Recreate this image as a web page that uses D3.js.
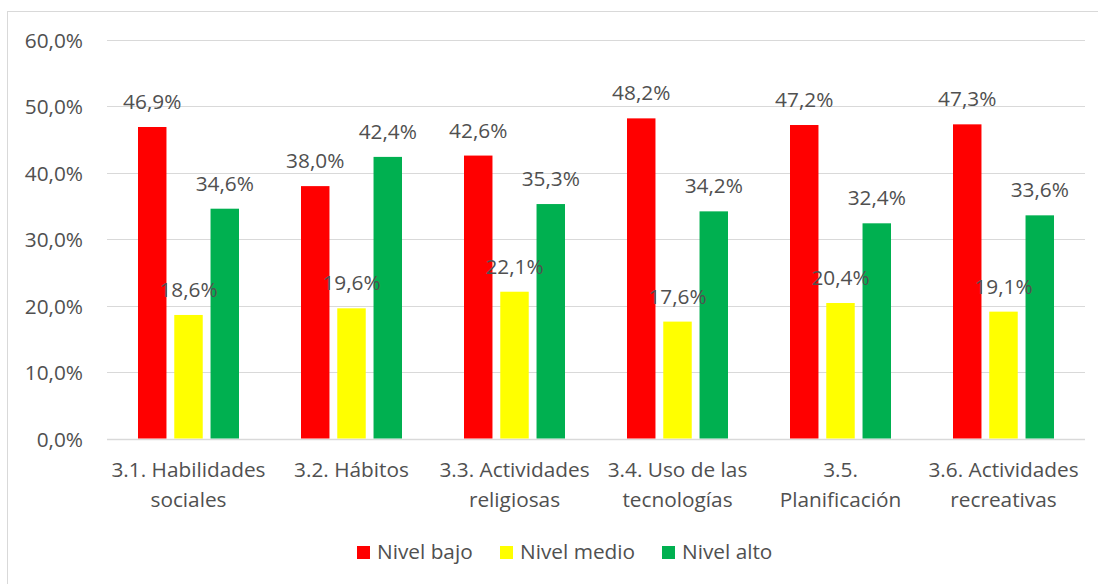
<html>
    <head>
        <meta charset="UTF-8">
        <title>Niveles por dimensión</title>
        <script src="https://cdn.jsdelivr.net/npm/d3@7/dist/d3.min.js"></script>
        <style>
            body { margin: 0; background: #ffffff; }
            text { font-family: "Open Sans", "Noto Sans", sans-serif; fill: #505050; }
        </style>
    </head>
    <body>
        <div id="chart"></div>

        <script>
            // datos
            var categorias = [
                ["3.1. Habilidades", "sociales"],
                ["3.2. Hábitos"],
                ["3.3. Actividades", "religiosas"],
                ["3.4. Uso de las", "tecnologías"],
                ["3.5.", "Planificación"],
                ["3.6. Actividades", "recreativas"]
            ];
            var series = ["Nivel bajo", "Nivel medio", "Nivel alto"];
            var nivelBajo = [46.9, 38.0, 42.6, 48.2, 47.2, 47.3];
            var nivelMedio = [18.6, 19.6, 22.1, 17.6, 20.4, 19.1];
            var nivelAlto = [34.6, 42.4, 35.3, 34.2, 32.4, 33.6];
            var ticks = [0, 10, 20, 30, 40, 50, 60];
            var colores = ["#FF0000", "#FFFF00", "#00B050"];

            var valores = [nivelBajo, nivelMedio, nivelAlto];
            var W = 1098, H = 584, FS = 20.8;
            var fmt = function (v) { return v.toFixed(1).replace(".", ",") + "%"; };

            var svg = d3.select("#chart").append("svg")
                    .attr("width", W)
                    .attr("height", H);

            // borde del gráfico
            svg.append("rect")
                    .attr("x", 7.5).attr("y", 11.5)
                    .attr("width", W + 10).attr("height", H + 10)
                    .attr("fill", "#ffffff")
                    .attr("stroke", "#D9D9D9");

            var x0 = d3.scaleBand()
                    .domain(d3.range(categorias.length))
                    .range([107, 1085]);
            var x1 = d3.scaleBand()
                    .domain(series)
                    .range([x0.bandwidth() / 2 - 50.5, x0.bandwidth() / 2 + 50.5])
                    .paddingInner(0.215);
            var y = d3.scaleLinear()
                    .domain([0, 60])
                    .range([438.5, 40]);

            // rejilla
            svg.append("g").selectAll("line")
                    .data(ticks).enter()
                    .append("line")
                    .attr("x1", 107).attr("x2", 1085)
                    .attr("y1", function (d) { return Math.round(y(d)) + 0.5; })
                    .attr("y2", function (d) { return Math.round(y(d)) + 0.5; })
                    .attr("stroke", "#D9D9D9")
                    .attr("stroke-width", function (d) { return d === 0 ? 1.5 : 1.2; });

            var yAxis = d3.axisLeft(y)
                    .tickValues(ticks)
                    .tickFormat(fmt)
                    .tickSize(0)
                    .tickPadding(0);
            var gy = svg.append("g")
                    .attr("transform", "translate(83,0)")
                    .call(yAxis);
            gy.select(".domain").remove();
            gy.selectAll("text")
                    .attr("font-size", FS)
                    .attr("font-family", null)
                    .attr("fill", null)
                    .attr("dy", "0.36em");

            // barras
            var grupos = svg.append("g").selectAll("g")
                    .data(categorias).enter()
                    .append("g")
                    .attr("transform", function (d, i) {
                        return "translate(" + x0(i) + ",0)";
                    });

            grupos.each(function (c, i) {
                var g = d3.select(this);
                var filas = series.map(function (s, k) {
                    return {serie: s, valor: valores[k][i], color: colores[k]};
                });
                g.selectAll("rect")
                        .data(filas).enter()
                        .append("rect")
                        .attr("x", function (d) { return x1(d.serie); })
                        .attr("width", x1.bandwidth())
                        .attr("y", function (d) { return y(d.valor); })
                        .attr("height", function (d) { return y(0) - y(d.valor); })
                        .attr("fill", function (d) { return d.color; });
                g.selectAll("text.etiqueta")
                        .data(filas).enter()
                        .append("text")
                        .attr("class", "etiqueta")
                        .attr("x", function (d) { return x1(d.serie) + x1.bandwidth() / 2; })
                        .attr("y", function (d) { return y(d.valor) - 18; })
                        .attr("text-anchor", "middle")
                        .attr("font-size", FS)
                        .text(function (d) { return fmt(d.valor); });
                g.append("text")
                        .attr("text-anchor", "middle")
                        .attr("font-size", FS)
                        .selectAll("tspan")
                        .data(c).enter()
                        .append("tspan")
                        .attr("x", x0.bandwidth() / 2)
                        .attr("y", function (d, j) { return 477 + j * 30; })
                        .text(function (d) { return d; });
            });

            // leyenda
            var legX = [357, 500, 662];
            var ley = svg.append("g").selectAll("g")
                    .data(series).enter()
                    .append("g")
                    .attr("transform", function (d, i) {
                        return "translate(" + legX[i] + ",546)";
                    });
            ley.append("rect")
                    .attr("width", 13).attr("height", 13)
                    .attr("fill", function (d, i) { return colores[i]; });
            ley.append("text")
                    .attr("x", 20).attr("y", 13)
                    .attr("font-size", FS)
                    .text(function (d) { return d; });
        </script>
    </body>
</html>
